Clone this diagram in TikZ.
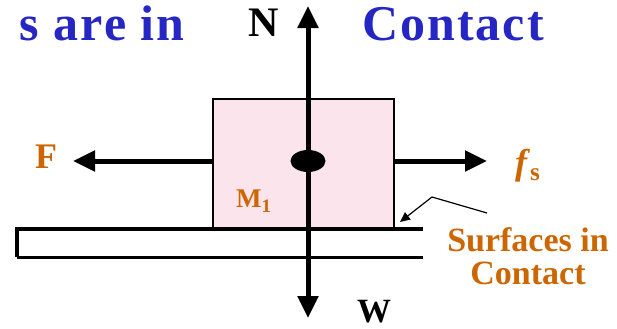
\documentclass[tikz,border=0pt]{standalone}
\usepackage{fontspec}
\setmainfont{Liberation Serif}[BoldFont={Liberation Serif Bold},
  BoldItalicFont={Liberation Serif Bold Italic}]
\definecolor{title}{RGB}{38,38,196}
\definecolor{label}{RGB}{204,102,0}
\definecolor{blockpink}{RGB}{252,228,236}
\usetikzlibrary{arrows.meta,positioning,calc,shapes.geometric}
\tikzset{
  force/.style={-{Triangle[length=11pt,width=10pt]}, line width=2.5pt},
  block/.style={draw, line width=1pt, fill=blockpink, minimum width=90.5pt,
              minimum height=65pt, inner sep=0pt},
  dot/.style={ellipse, fill=black, minimum width=17.5pt, minimum height=11pt, inner sep=0pt},
  head/.style={text=title, font=\bfseries\fontsize{25}{28}\selectfont\addfontfeatures{LetterSpace=4}, inner sep=0pt},
  lbl/.style={text=label, font=\bfseries\fontsize{18}{20}\selectfont, inner sep=0pt},
  pointer/.style={-{Triangle[length=5pt,width=4.5pt]}, line width=0.6pt},
}
\begin{document}
\begin{tikzpicture}[x=0.5pt,y=-0.5pt]
        \useasboundingbox (0,0) rectangle (617,328);
        \node[block] (box) at (303.5,164) {};
        \draw[line width=1.5pt] (423,257) -- (17,257);
        \draw[line width=2pt] (423,229) -- (17,229) -- (17,257);
        \coordinate (ntip) at (308,6);
        \coordinate (wtip) at (308,318);
        \coordinate (ftip) at (73,161);
        \coordinate (fstip) at (487,161);
        \coordinate (cm) at (308,161);
        \draw[force] (cm) -- (ntip);
        \draw[force] (cm) -- (wtip);
        \draw[force] (box.west |- cm) -- (ftip);
        \draw[force] (box.east |- cm) -- (fstip);
        \node[dot] (cg) at (cm) {};
        \node[head, anchor=base east] (headl) at (185,40) {s are in};
        \node[head, anchor=base west] (headr) at (362,40) {Contact};
        \node[font=\bfseries\fontsize{21}{22}\selectfont, inner sep=0pt, anchor=base] (nlab) at (264,36) {N};
        \node[lbl] (flab) at (46,157) {F};
        \node[lbl] (fslab) at (528,166) {\textit{f}\textsubscript{s}};
        \node[lbl, font=\bfseries\fontsize{13.5}{15}\selectfont] (mlab) at (254,201) {M\textsubscript{1}};
        \node[font=\bfseries\fontsize{17}{18}\selectfont, inner sep=0pt, anchor=base] (wlab) at (374,322) {W};
        \node[lbl, align=center, font=\bfseries\fontsize{17}{16.5}\selectfont] (surf) at (528,256) {Surfaces in\\Contact};
        \coordinate (pstart) at (487,213);
        \coordinate (bend) at (432,197);
        \coordinate (ptip) at (400,222);
        \draw[pointer] (pstart) -- (bend) -- (ptip);
      \end{tikzpicture}
\end{document}
